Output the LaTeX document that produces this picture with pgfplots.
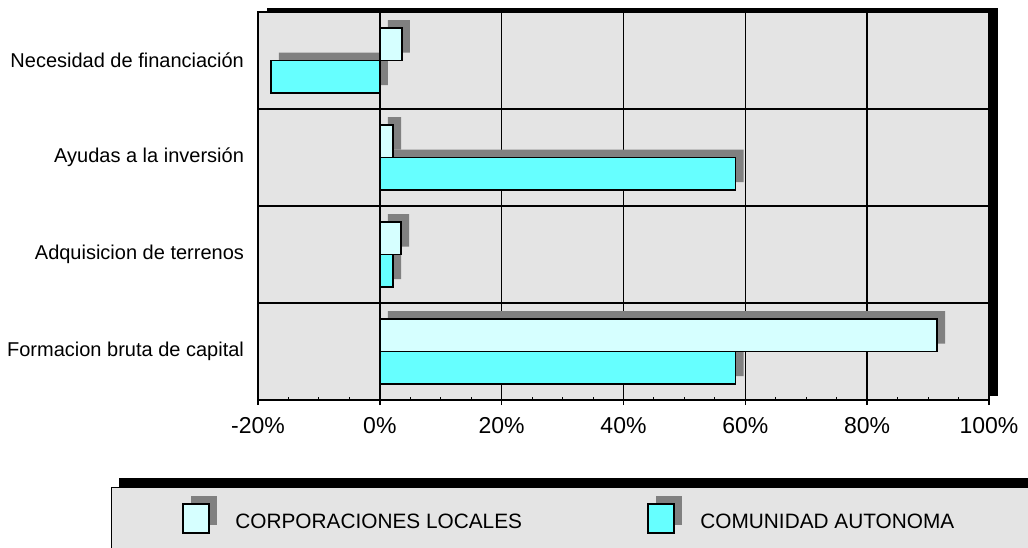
\documentclass[border=0pt]{standalone}
\usepackage{fontspec}
\setmainfont{Liberation Sans}
\usepackage{pgfplots}
\usepackage{pgfplotstable}
\pgfplotsset{compat=1.18}
\definecolor{bggray}{RGB}{228,228,228}
\definecolor{shadowgray}{RGB}{128,128,128}
\definecolor{clfill}{RGB}{214,255,255}
\definecolor{cafill}{RGB}{102,255,255}

% cat: 0 = Formacion, 1 = Adquisicion, 2 = Ayudas, 3 = Necesidad
\pgfplotstableread{
cat cl ca
0 91.5 58.4
1 3.5 2.2
2 2.2 58.4
3 3.6 -17.9
}\datatable

\begin{document}
\begin{tikzpicture}
% 1 px of the reference = 0.5pt
\path[use as bounding box, clip] (0,0) rectangle (514pt,273.5pt);
% shadow of the plot area
\fill[black] (133.5pt,75.5pt) rectangle (499pt,269.5pt);
\begin{axis}[
    at={(129pt,73.5pt)}, anchor=south west,
    width=365.5pt, height=194pt, scale only axis,
    axis background/.style={fill=bggray},
    axis line style={line width=0.7pt},
    xbar, bar width=16.25pt,
    xmin=-20, xmax=100, ymin=-0.5, ymax=3.5,
    xtick={-20,0,20,40,60,80,100},
    xticklabels={-20\%,0\%,20\%,40\%,60\%,80\%,100\%},
    minor x tick num=3,
    xtick pos=bottom,
    ytick={0,1,2,3},
    yticklabels={Formacion bruta de capital, Adquisicion de terrenos, Ayudas a la inversión, Necesidad de financiación},
    minor ytick={0.5,1.5,2.5},
    xmajorgrids, yminorgrids,
    grid style={black, line width=0.7pt},
    minor grid style={black, line width=0.7pt},
    tick align=outside,
    major tick length=2.5pt, minor tick length=1.5pt,
    every major x tick/.append style={black, line width=0.7pt},
    every minor x tick/.append style={black, line width=0.5pt, yshift=1.5pt},
    every major y tick/.append style={draw=none},
    every minor y tick/.append style={draw=none},
    xticklabel style={font=\fontsize{11.5pt}{13pt}\selectfont, yshift=-2.5pt},
    yticklabel style={font=\fontsize{10pt}{12pt}\selectfont, xshift=-1pt},
]
% shadows
\addplot[fill=shadowgray, draw=none, bar shift=8.125pt, xshift=4pt, yshift=4pt, forget plot]
    table[x=cl, y=cat]{\datatable};
\addplot[fill=shadowgray, draw=none, bar shift=-8.125pt, xshift=4pt, yshift=4pt, forget plot]
    table[x=ca, y=cat]{\datatable};
% bars
\addplot[fill=clfill, draw=black, line width=0.75pt, bar shift=8.125pt]
    table[x=cl, y=cat]{\datatable};
\addplot[fill=cafill, draw=black, line width=0.75pt, bar shift=-8.125pt]
    table[x=ca, y=cat]{\datatable};
\end{axis}
% legend box, cut by the right and bottom edge
\begin{scope}[x=0.5pt, y=0.5pt]
\fill[black] (119,-1) rectangle (1100,69);
\draw[fill=bggray, line width=0.5pt] (111,-10) rectangle (1100,60);
\fill[shadowgray] (191,22) rectangle (217,51);
\draw[fill=clfill, line width=0.75pt] (183,14) rectangle (209,43);
\node[anchor=west, inner sep=0, font=\fontsize{10.4pt}{12pt}\selectfont] at (235,26) {CORPORACIONES LOCALES};
\fill[shadowgray] (656,22) rectangle (682,51);
\draw[fill=cafill, line width=0.75pt] (648,14) rectangle (674,43);
\node[anchor=west, inner sep=0, font=\fontsize{10.4pt}{12pt}\selectfont] at (700,26) {COMUNIDAD AUTONOMA};
\end{scope}
\end{tikzpicture}
\end{document}
